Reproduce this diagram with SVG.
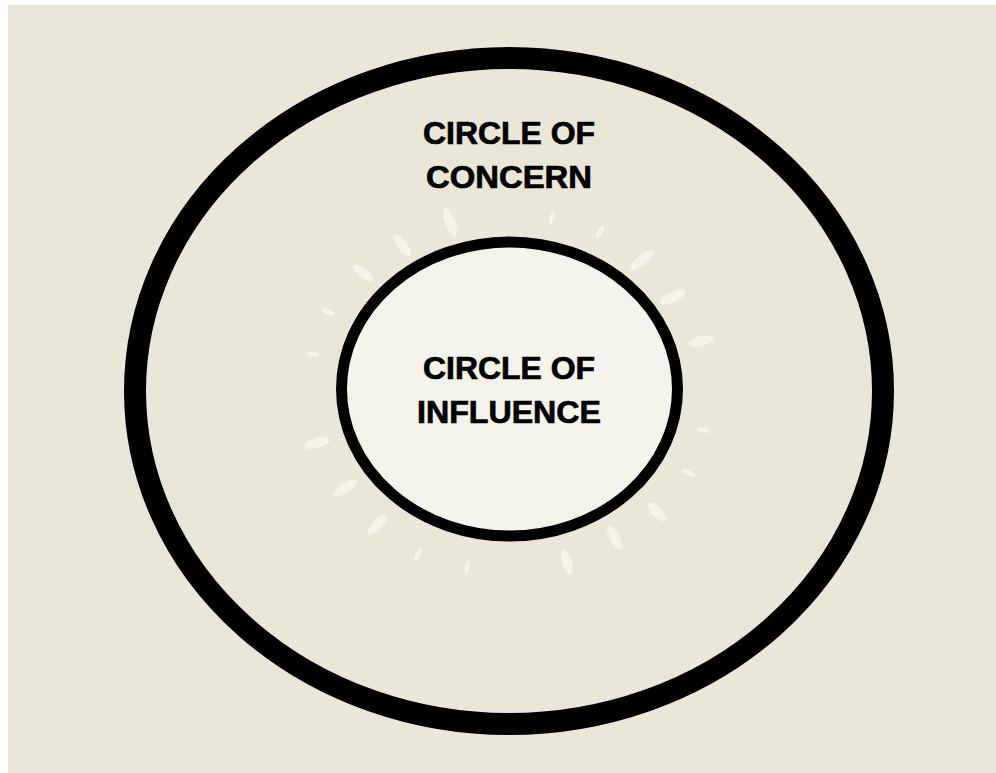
<svg xmlns="http://www.w3.org/2000/svg" width="996" height="773" viewBox="0 0 996 773">
  <style>
    .lbl { font-family: "Liberation Sans", Arial, sans-serif; font-weight: 700; font-size: 31px; fill: #000; stroke: #000; stroke-width: 0.7; text-anchor: middle; }
    .petal { fill: #f6f4e8; }
  </style>
  <rect x="0" y="0" width="996" height="773" fill="#ffffff"/>
  <rect x="8" y="5" width="988" height="768" fill="#ebe7d8"/>

  <g id="circle-of-concern">
    <ellipse cx="509" cy="391" rx="374" ry="333" fill="none" stroke="#000" stroke-width="22"/>
    <text class="lbl" x="509" y="144" textLength="172" lengthAdjust="spacingAndGlyphs">CIRCLE OF</text>
    <text class="lbl" x="509" y="188" textLength="166" lengthAdjust="spacingAndGlyphs">CONCERN</text>
  </g>

  <g id="rays">
    <ellipse class="petal" cx="0" cy="0" rx="15" ry="5" transform="translate(450 222) rotate(-109.6)"/>
    <ellipse class="petal" cx="0" cy="0" rx="6" ry="2.5" transform="translate(552 218) rotate(-75.8)"/>
    <ellipse class="petal" cx="0" cy="0" rx="7" ry="2.5" transform="translate(600 232) rotate(-59.7)"/>
    <ellipse class="petal" cx="0" cy="0" rx="13" ry="5" transform="translate(402 245) rotate(-126.8)"/>
    <ellipse class="petal" cx="0" cy="0" rx="14" ry="5" transform="translate(642 260) rotate(-38)"/>
    <ellipse class="petal" cx="0" cy="0" rx="12" ry="4.5" transform="translate(363 273) rotate(-141.8)"/>
    <ellipse class="petal" cx="0" cy="0" rx="14" ry="5" transform="translate(673 297) rotate(-25)"/>
    <ellipse class="petal" cx="0" cy="0" rx="7" ry="2.5" transform="translate(328 312) rotate(-157.2)"/>
    <ellipse class="petal" cx="0" cy="0" rx="13" ry="5" transform="translate(701 341) rotate(-12)"/>
    <ellipse class="petal" cx="0" cy="0" rx="7" ry="2.5" transform="translate(313 354) rotate(-170.2)"/>
    <ellipse class="petal" cx="0" cy="0" rx="7" ry="2.5" transform="translate(703 430) rotate(12.2)"/>
    <ellipse class="petal" cx="0" cy="0" rx="13" ry="5" transform="translate(317 443) rotate(164)"/>
    <ellipse class="petal" cx="0" cy="0" rx="7" ry="2.5" transform="translate(689 473) rotate(25.3)"/>
    <ellipse class="petal" cx="0" cy="0" rx="14" ry="5" transform="translate(345 488) rotate(148.6)"/>
    <ellipse class="petal" cx="0" cy="0" rx="12" ry="5" transform="translate(657 512) rotate(45)"/>
    <ellipse class="petal" cx="0" cy="0" rx="13" ry="5" transform="translate(377 525) rotate(134)"/>
    <ellipse class="petal" cx="0" cy="0" rx="13" ry="5" transform="translate(615 538) rotate(60)"/>
    <ellipse class="petal" cx="0" cy="0" rx="7" ry="2.5" transform="translate(418 554) rotate(118.9)"/>
    <ellipse class="petal" cx="0" cy="0" rx="13" ry="5" transform="translate(567 562) rotate(75)"/>
    <ellipse class="petal" cx="0" cy="0" rx="7" ry="2.5" transform="translate(467 568) rotate(100)"/>
  </g>

  <g id="circle-of-influence">
    <ellipse cx="509.5" cy="389" rx="168" ry="147" fill="#f5f4ea" stroke="#000" stroke-width="11"/>
    <text class="lbl" x="509" y="379" textLength="172" lengthAdjust="spacingAndGlyphs">CIRCLE OF</text>
    <text class="lbl" x="509" y="423" textLength="184" lengthAdjust="spacingAndGlyphs">INFLUENCE</text>
  </g>

  <g id="connectors"></g>
</svg>
